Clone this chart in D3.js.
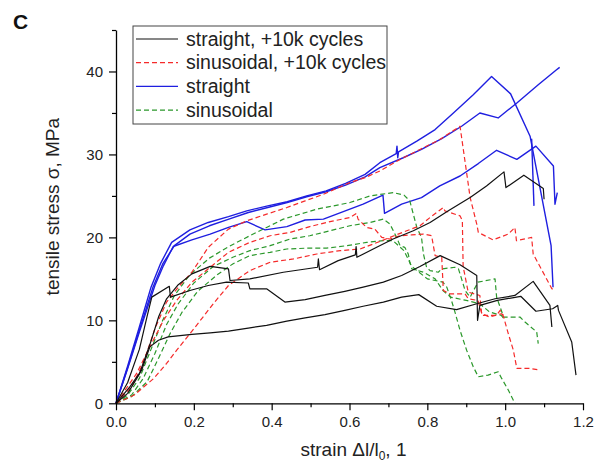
<!DOCTYPE html>
<html>
<head>
<meta charset="utf-8">
<script src="https://cdn.jsdelivr.net/npm/d3@7"></script>
<style>
  body { margin: 0; background: #fff; }
  svg { font-family: "Liberation Sans", Arial, sans-serif; }
</style>
</head>
<body>
<div id="chart"></div>
<script>
// strain (1) vs tensile stress (MPa)
const straight10kA = [[0,0],[0.03,1.2],[0.06,3.5],[0.09,7.5],[0.11,10.5],[0.13,12.6],[0.16,14.3],[0.195,15.6],[0.242,16.5],[0.289,16.2],[0.293,14.8],[0.344,15.0],[0.43,15.8],[0.518,16.4],[0.52,17.4],[0.523,16.1],[0.571,17.2],[0.615,17.9],[0.617,18.9],[0.619,17.6],[0.661,18.6],[0.712,19.8],[0.764,20.8],[0.807,21.8],[0.854,23.2],[0.91,24.8],[0.952,26.2],[0.997,27.9],[1.002,26.0],[1.048,27.5],[1.098,25.9],[1.1,24.6]];
const straight10kB = [[0,0],[0.03,2.5],[0.06,6.5],[0.08,10.5],[0.092,12.8],[0.137,14.1],[0.14,12.8],[0.19,13.6],[0.237,14.2],[0.284,14.6],[0.34,14.5],[0.344,13.8],[0.387,13.8],[0.434,12.2],[0.486,12.5],[0.537,13.0],[0.588,13.5],[0.635,14.0],[0.687,14.6],[0.734,15.4],[0.781,16.5],[0.833,17.8],[0.884,16.7],[0.927,15.4],[0.929,10.0],[0.935,11.8],[0.98,12.4],[1.04,12.9],[1.079,11.1],[1.122,11.4],[1.135,11.8],[1.137,11.2],[1.171,7.4],[1.182,3.4]];
const straight10kC = [[0,0],[0.036,2.0],[0.066,4.0],[0.087,6.8],[0.109,7.6],[0.134,8.0],[0.195,8.3],[0.242,8.5],[0.289,8.7],[0.344,9.1],[0.387,9.4],[0.439,9.9],[0.486,10.3],[0.537,10.7],[0.588,11.2],[0.635,11.7],[0.687,12.2],[0.734,12.8],[0.778,13.1],[0.824,11.7],[0.875,11.3],[0.927,12.0],[0.974,12.6],[1.025,13.0],[1.072,14.7],[1.115,11.8],[1.12,9.2]];

const sin10kA = [[0,0],[0.04,2.0],[0.07,4.8],[0.1,9.0],[0.13,12.2],[0.16,14.0],[0.195,15.8],[0.237,18.8],[0.289,21.0],[0.336,22.0],[0.387,22.8],[0.439,23.6],[0.486,24.4],[0.533,25.2],[0.601,26.6],[0.64,27.2],[0.678,28.0],[0.73,29.4],[0.781,30.6],[0.832,31.8],[0.884,33.4],[0.91,24.8],[0.927,21.6],[0.931,20.6],[0.969,19.7],[1.008,20.4],[1.025,21.2],[1.029,19.6],[1.068,20.0],[1.072,18.0],[1.111,14.6],[1.12,13.8],[1.126,13.8]];
const sin10kB = [[0,0],[0.053,3.6],[0.087,6.8],[0.122,10.0],[0.156,12.4],[0.195,14.6],[0.242,16.4],[0.289,18.2],[0.344,19.4],[0.396,20.2],[0.447,20.6],[0.498,21.3],[0.55,21.9],[0.601,22.4],[0.618,22.9],[0.622,22.2],[0.644,21.2],[0.665,21.0],[0.683,20.0],[0.704,19.8],[0.73,20.2],[0.76,20.3],[0.79,20.4],[0.811,20.2],[0.82,17.8],[0.837,17.6],[0.841,13.6],[0.858,13.2],[0.897,13.2],[0.905,12.6],[0.93,12.4],[0.94,10.8],[0.96,10.4],[0.99,10.8],[1.0,10.5]];
const sin10kC = [[0,0],[0.047,1.0],[0.097,3.0],[0.13,4.8],[0.156,6.4],[0.207,9.4],[0.25,12.0],[0.289,14.2],[0.344,16.0],[0.396,17.0],[0.456,17.4],[0.516,18.0],[0.576,18.4],[0.627,18.6],[0.661,19.2],[0.704,20.0],[0.747,20.8],[0.781,21.4],[0.807,22.4],[0.841,23.6],[0.845,23.2],[0.884,22.6],[0.89,22.0],[0.892,16.5],[0.905,13.4],[0.935,13.0],[0.94,10.6],[0.978,10.6],[0.987,11.2],[0.996,10.4],[1.008,8.4],[1.021,6.4],[1.03,4.2],[1.064,4.2],[1.09,4.0]];

const straightA = [[0,0],[0.03,4.5],[0.06,9.2],[0.09,14.0],[0.115,16.9],[0.143,19.4],[0.19,20.9],[0.237,21.8],[0.289,22.5],[0.336,23.2],[0.39,23.8],[0.44,24.3],[0.49,25.0],[0.54,25.6],[0.59,26.5],[0.64,27.6],[0.678,29.0],[0.72,30.1],[0.722,31.0],[0.724,29.6],[0.726,30.3],[0.773,31.6],[0.82,33.0],[0.867,35.0],[0.918,37.2],[0.965,39.4],[1.014,37.3],[1.064,32.2],[1.118,19.0],[1.123,14.0]];
const straightB = [[0,0],[0.03,4.3],[0.06,8.8],[0.095,14.0],[0.12,16.8],[0.15,19.0],[0.19,20.4],[0.24,21.4],[0.29,22.2],[0.34,23.0],[0.39,23.6],[0.44,24.2],[0.49,24.9],[0.54,25.5],[0.59,26.3],[0.64,27.3],[0.678,28.4],[0.738,29.6],[0.785,30.6],[0.837,31.9],[0.888,33.4],[0.935,35.0],[0.982,34.4],[1.03,36.2],[1.085,38.4],[1.132,40.2],[1.14,40.5]];
const straightC = [[0,0],[0.03,4.2],[0.06,8.6],[0.1,14.2],[0.122,16.6],[0.147,18.9],[0.195,19.7],[0.242,20.4],[0.289,21.2],[0.336,21.9],[0.383,20.9],[0.439,21.3],[0.486,22.1],[0.533,22.2],[0.584,23.1],[0.635,24.0],[0.686,25.1],[0.69,22.9],[0.734,24.0],[0.785,24.8],[0.832,26.2],[0.884,27.4],[0.931,28.9],[0.978,30.5],[1.03,29.4],[1.079,31.0],[1.124,28.6],[1.128,24.0],[1.134,25.4]];
const straightD = [[1.068,31.9],[1.074,23.8]];

const sinA = [[0,0],[0.03,1.0],[0.06,3.0],[0.09,6.5],[0.12,10.0],[0.15,13.0],[0.19,15.5],[0.24,17.5],[0.29,18.9],[0.344,20.2],[0.43,22.2],[0.516,23.4],[0.601,24.2],[0.653,25.0],[0.712,25.4],[0.74,25.1],[0.755,24.4],[0.764,22.8],[0.773,21.2],[0.785,20.0],[0.79,18.0],[0.798,16.4],[0.807,16.0],[0.828,15.8],[0.837,16.2],[0.871,16.4],[0.88,16.2],[0.888,15.0],[0.897,13.6],[0.91,12.8],[0.93,14.6],[0.974,15.0],[0.978,12.8],[0.996,10.4],[1.038,10.4],[1.051,9.8],[1.081,8.6],[1.085,7.2]];
const sinB = [[0,0],[0.04,1.0],[0.07,3.0],[0.1,6.0],[0.13,9.5],[0.16,12.0],[0.2,14.5],[0.25,16.5],[0.3,17.6],[0.344,18.4],[0.396,19.0],[0.447,19.8],[0.498,20.2],[0.55,20.8],[0.601,21.4],[0.653,21.8],[0.687,22.2],[0.704,21.6],[0.721,20.0],[0.73,19.0],[0.742,18.8],[0.751,18.0],[0.755,17.0],[0.76,16.2],[0.79,15.8],[0.82,15.0],[0.84,13.6],[0.86,12.8],[0.9,12.4],[0.935,12.0],[0.96,11.0],[0.99,10.6],[1.0,10.0]];
const sinC = [[0,0],[0.04,0.8],[0.08,2.6],[0.11,5.5],[0.14,8.5],[0.17,11.0],[0.21,13.5],[0.26,15.5],[0.3,16.8],[0.344,17.8],[0.396,18.2],[0.439,18.6],[0.49,18.7],[0.541,18.7],[0.593,19.0],[0.644,19.4],[0.687,19.6],[0.712,19.6],[0.74,18.4],[0.76,16.5],[0.8,15.0],[0.84,14.6],[0.85,14.0],[0.862,12.4],[0.871,11.0],[0.884,8.8],[0.901,6.4],[0.918,4.4],[0.931,3.2],[0.956,3.4],[0.982,3.8],[0.991,3.0],[1.008,1.6],[1.025,0]];

const seriesNames = ["straight, +10k cycles", "sinusoidal, +10k cycles", "straight", "sinusoidal"];
const xTicks = [0, 0.2, 0.4, 0.6, 0.8, 1.0, 1.2];
const yTicks = [0, 10, 20, 30, 40];

const series = [
  { name: seriesNames[0], color: "#111111", dash: null, width: 1.2, curves: [straight10kA, straight10kB, straight10kC] },
  { name: seriesNames[1], color: "#f52a2a", dash: "5,3", width: 1.2, curves: [sin10kA, sin10kB, sin10kC] },
  { name: seriesNames[2], color: "#1f1fe0", dash: null, width: 1.4, curves: [straightA, straightB, straightC, straightD] },
  { name: seriesNames[3], color: "#2b982b", dash: "5,3", width: 1.2, curves: [sinA, sinB, sinC] }
];

const width = 600, height = 465;
const margin = { top: 30, right: 17, bottom: 62, left: 116 };

const svg = d3.select("#chart").append("svg")
  .attr("width", width)
  .attr("height", height);

const x = d3.scaleLinear().domain([0, 1.2]).range([margin.left, width - margin.right]);
const y = d3.scaleLinear().domain([0, 45]).range([height - margin.bottom + 0.3, margin.top]);

const line = d3.line().x(d => x(d[0])).y(d => y(d[1]));

// curves, drawn in reverse legend order so black ends up on top like the original
const order = [2, 3, 1, 0];
order.forEach(i => {
  const s = series[i];
  s.curves.forEach(c => {
    svg.append("path")
      .datum(c)
      .attr("fill", "none")
      .attr("stroke", s.color)
      .attr("stroke-width", s.width)
      .attr("stroke-dasharray", s.dash)
      .attr("stroke-linejoin", "round")
      .attr("d", line);
  });
});

// axes
const x0 = y(0);
const gx = svg.append("g").attr("transform", `translate(0,${x0})`);
gx.call(d3.axisBottom(x).tickValues(xTicks).tickFormat(d3.format(".1f")).tickSize(7).tickPadding(6).tickSizeOuter(0));
svg.append("g").attr("transform", `translate(0,${x0})`)
  .call(d3.axisBottom(x).tickValues(d3.range(0.1, 1.2, 0.2)).tickFormat("").tickSize(4).tickSizeOuter(0))
  .select(".domain").remove();

const gy = svg.append("g").attr("transform", `translate(${margin.left},0)`);
gy.call(d3.axisLeft(y).tickValues(yTicks).tickSize(7).tickPadding(6).tickSizeOuter(0));
svg.append("g").attr("transform", `translate(${margin.left},0)`)
  .call(d3.axisLeft(y).tickValues([5, 15, 25, 35, 45]).tickFormat("").tickSize(4).tickSizeOuter(0))
  .select(".domain").remove();

svg.selectAll(".domain").attr("stroke", "#000").attr("stroke-width", 1.3);
svg.selectAll(".tick line").attr("stroke", "#000").attr("stroke-width", 1.2);
svg.selectAll(".tick text")
  .attr("font-family", "Liberation Sans, Arial, sans-serif")
  .attr("font-size", 15)
  .attr("fill", "#222");

// axis titles
svg.append("text")
  .attr("transform", `translate(59,${(y(0) + y(45)) / 2 - 10}) rotate(-90)`)
  .attr("text-anchor", "middle")
  .attr("font-size", 19)
  .attr("fill", "#222")
  .text("tensile stress σ, MPa");

const xt = svg.append("text")
  .attr("x", (x(0) + x(1.2)) / 2 + 4)
  .attr("y", 456)
  .attr("text-anchor", "middle")
  .attr("font-size", 19)
  .attr("fill", "#222");
xt.append("tspan").text("strain Δl/l");
xt.append("tspan").attr("font-size", 12).attr("dy", 4).text("0");
xt.append("tspan").attr("dy", -4).text(", 1");

// panel letter
svg.append("text")
  .attr("x", 13)
  .attr("y", 29)
  .attr("font-size", 21)
  .attr("font-weight", "bold")
  .attr("fill", "#111")
  .text("C");

// legend
const lg = svg.append("g").attr("transform", "translate(133,26)");
lg.append("rect")
  .attr("width", 254)
  .attr("height", 98)
  .attr("fill", "#fff")
  .attr("stroke", "#444")
  .attr("stroke-width", 1);
series.forEach((s, i) => {
  const cy = 13 + i * 23.7;
  lg.append("line")
    .attr("x1", 3).attr("x2", 45)
    .attr("y1", cy).attr("y2", cy)
    .attr("stroke", s.color)
    .attr("stroke-width", s.width)
    .attr("stroke-dasharray", s.dash);
  lg.append("text")
    .attr("x", 53)
    .attr("y", cy + 6.5)
    .attr("font-size", 19.5)
    .attr("fill", "#222")
    .text(s.name);
});
</script>
</body>
</html>
